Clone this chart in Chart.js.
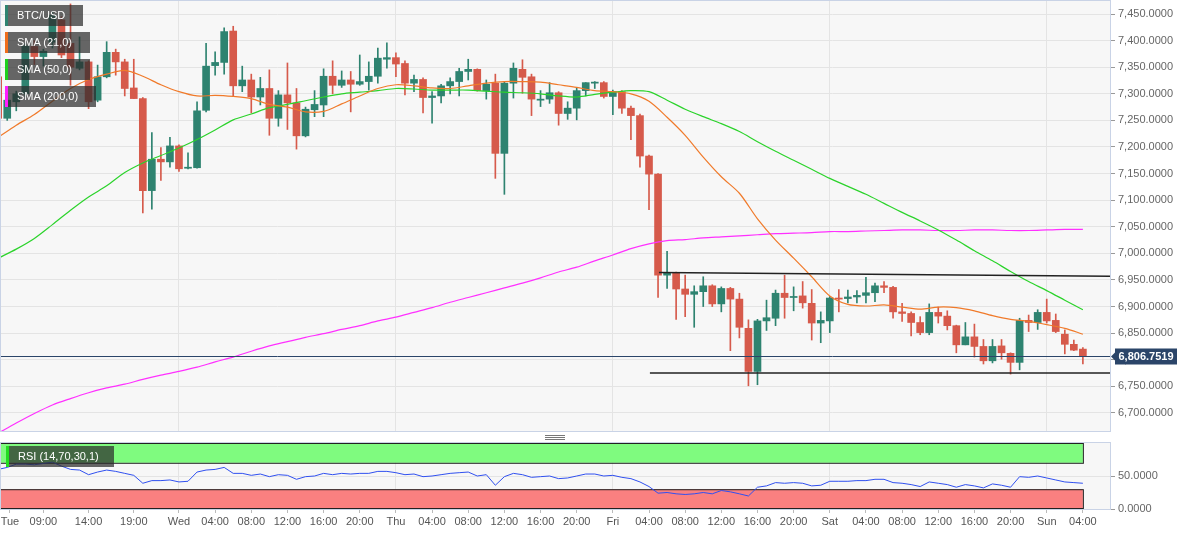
<!DOCTYPE html>
<html>
<head>
<meta charset="utf-8">
<script src="https://cdn.jsdelivr.net/npm/chart.js@4.4.0/dist/chart.umd.min.js"></script>
<style>
  html, body { margin: 0; padding: 0; background: #fff; }
  body { width: 1194px; height: 536px; position: relative; overflow: hidden; font-family: "Liberation Sans", Arial, sans-serif; }
  #main-wrap { position: absolute; left: 0; top: 0; width: 1194px; height: 432px; }
  #rsi-wrap { position: absolute; left: 0; top: 441px; width: 1194px; height: 95px; }
  .tag { position: absolute; height: 21px; line-height: 21px; background: rgba(45,45,45,0.72); color: #fff;
         font-size: 11px; padding-left: 9px; box-sizing: border-box; border-left: 3px solid; white-space: nowrap; }
  .grip { position: absolute; left: 545px; width: 20px; height: 1px; background: #777; }
</style>
</head>
<body>
<div id="main-wrap"><canvas id="price-chart"></canvas></div>
<div id="rsi-wrap"><canvas id="rsi-chart"></canvas></div>

<div class="tag" style="left:5px;top:5px;width:78px;border-color:#2e8370">BTC/USD</div>
<div class="tag" style="left:5px;top:32px;width:85px;border-color:#f06d1a">SMA (21,0)</div>
<div class="tag" style="left:5px;top:59px;width:85px;border-color:#1ed01e">SMA (50,0)</div>
<div class="tag" style="left:5px;top:86px;width:91px;border-color:#ff1eff">SMA (200,0)</div>
<div class="tag" style="left:6px;top:446px;width:108px;border-color:#22dd22">RSI (14,70,30,1)</div>
<div class="grip" style="top:435px"></div>
<div class="grip" style="top:437px"></div>
<div class="grip" style="top:439px"></div>

<script>
// hourly candles, hour 0 = Tue 00:00
const firstHour = 4;

const opens = [
  7332, 7254, 7285, 7300, 7389, 7370, 7397, 7439, 7395, 7348,
  7360, 7288, 7332, 7378, 7360, 7311, 7291, 7118, 7177, 7172,
  7202, 7160, 7161, 7269, 7353, 7359, 7418, 7315, 7326, 7294,
  7310, 7254, 7298, 7283, 7221, 7270, 7279, 7333, 7316, 7326,
  7318, 7323, 7333, 7365, 7368, 7357, 7320, 7327, 7293, 7296,
  7315, 7323, 7342, 7346, 7306, 7320, 7188, 7320, 7346, 7332,
  7288, 7290, 7302, 7263, 7273, 7306, 7320, 7321, 7295, 7304,
  7273, 7259, 7183, 7149, 6959, 6963, 6933, 6923, 6928, 6939,
  6905, 6934, 6914, 6859, 6778, 6873, 6878, 6925, 6917, 6920,
  6906, 6869, 6873, 6916, 6915, 6918, 6921, 6926, 6939, 6936,
  6890, 6887, 6870, 6851, 6889, 6882, 6864, 6828, 6843, 6825,
  6798, 6826, 6812, 6795, 6874, 6870, 6889, 6874, 6848, 6829,
  6820
];
const highs = [
  7340, 7292, 7305, 7394, 7400, 7384, 7455, 7445, 7469, 7407,
  7362, 7354, 7398, 7384, 7365, 7365, 7293, 7227, 7199, 7218,
  7204, 7189, 7285, 7395, 7379, 7424, 7427, 7352, 7337, 7331,
  7345, 7306, 7358, 7310, 7275, 7306, 7347, 7362, 7343, 7342,
  7373, 7360, 7386, 7396, 7377, 7362, 7335, 7330, 7304, 7318,
  7330, 7348, 7365, 7347, 7326, 7337, 7323, 7358, 7364, 7337,
  7306, 7321, 7304, 7285, 7312, 7321, 7323, 7323, 7307, 7306,
  7277, 7262, 7185, 7150, 7004, 6965, 6959, 6939, 6956, 6941,
  6937, 6936, 6925, 6875, 6876, 6912, 6931, 6959, 6937, 6947,
  6932, 6890, 6919, 6932, 6931, 6930, 6955, 6944, 6947, 6938,
  6906, 6890, 6881, 6905, 6899, 6892, 6865, 6870, 6867, 6838,
  6838, 6838, 6813, 6878, 6884, 6894, 6914, 6886, 6856, 6837,
  6823
];
const lows = [
  7250, 7250, 7268, 7295, 7355, 7352, 7386, 7368, 7316, 7345,
  7272, 7285, 7330, 7335, 7296, 7291, 7076, 7083, 7137, 7162,
  7154, 7159, 7160, 7266, 7335, 7337, 7296, 7304, 7264, 7279,
  7222, 7239, 7233, 7196, 7219, 7257, 7257, 7300, 7312, 7266,
  7316, 7307, 7320, 7348, 7332, 7298, 7304, 7264, 7245, 7283,
  7300, 7296, 7326, 7305, 7290, 7141, 7111, 7292, 7301, 7259,
  7276, 7282, 7241, 7252, 7251, 7296, 7310, 7292, 7261, 7263,
  7214, 7162, 7082, 6917, 6934, 6876, 6881, 6861, 6900, 6900,
  6890, 6817, 6841, 6751, 6753, 6855, 6864, 6878, 6892, 6897,
  6837, 6832, 6851, 6890, 6907, 6907, 6907, 6909, 6926, 6878,
  6872, 6845, 6847, 6847, 6869, 6856, 6813, 6828, 6805, 6792,
  6794, 6801, 6773, 6781, 6853, 6857, 6869, 6851, 6811, 6817,
  6792
];
const closes = [
  7254, 7288, 7300, 7390, 7370, 7380, 7448, 7373, 7350, 7360,
  7285, 7332, 7378, 7360, 7310, 7291, 7118, 7177, 7172, 7202,
  7159, 7162, 7268, 7352, 7359, 7417, 7315, 7326, 7294, 7310,
  7254, 7298, 7283, 7221, 7271, 7280, 7333, 7316, 7326, 7318,
  7323, 7333, 7367, 7368, 7356, 7320, 7327, 7293, 7296, 7315,
  7323, 7342, 7346, 7306, 7318, 7188, 7320, 7348, 7331, 7290,
  7290, 7302, 7263, 7273, 7306, 7321, 7322, 7295, 7304, 7273,
  7259, 7183, 7149, 6959, 6963, 6933, 6923, 6928, 6939, 6905,
  6934, 6914, 6861, 6778, 6873, 6879, 6925, 6917, 6919, 6907,
  6869, 6874, 6916, 6914, 6918, 6921, 6926, 6939, 6936, 6890,
  6887, 6870, 6851, 6889, 6882, 6864, 6828, 6843, 6825, 6798,
  6825, 6813, 6795, 6874, 6870, 6889, 6873, 6853, 6829, 6818,
  6806.7519
];

// moving averages, read every 2 hours
const smaHours = [
  4, 6, 8, 10, 12, 14, 16, 18, 20, 22, 24, 26, 28, 30, 32, 34, 36, 38, 40, 42,
  44, 46, 48, 50, 52, 54, 56, 58, 60, 62, 64, 66, 68, 70, 72, 74, 76, 78, 80, 82,
  84, 86, 88, 90, 92, 94, 96, 98, 100, 102, 104, 106, 108, 110, 112, 114, 116, 118, 120, 122,
  124
];
const sma21 = [
  7218, 7241, 7261, 7286, 7310, 7327, 7337, 7344, 7333, 7317,
  7304, 7296, 7297, 7295, 7291, 7280, 7275, 7266, 7267, 7281,
  7296, 7310, 7317, 7315, 7311, 7310, 7315, 7320, 7323, 7323,
  7322, 7317, 7312, 7306, 7304, 7300, 7286, 7256, 7222, 7181,
  7144, 7113, 7065, 7025, 6991, 6956, 6920, 6904, 6901, 6903,
  6899, 6895, 6899, 6898, 6892, 6883, 6876, 6872, 6866, 6859,
  6848
];
const sma50 = [
  6991, 7008, 7028, 7054, 7081, 7106, 7127, 7152, 7170, 7184,
  7198, 7214, 7232, 7251, 7262, 7274, 7280, 7287, 7294, 7300,
  7303, 7306, 7310, 7309, 7307, 7307, 7307, 7305, 7303, 7302,
  7300, 7296, 7294, 7299, 7303, 7306, 7304, 7288, 7271, 7257,
  7244, 7229, 7210, 7192, 7175, 7158, 7141, 7126, 7111, 7094,
  7077, 7061, 7044, 7025, 7005, 6986, 6966, 6947, 6930, 6912,
  6894
];
const sma200 = [
  6662, 6681, 6699, 6715, 6727, 6738, 6747, 6754, 6763, 6771,
  6778, 6786, 6796, 6805, 6816, 6826, 6834, 6842, 6849, 6857,
  6864, 6873, 6880, 6889, 6898, 6908, 6917, 6926, 6935, 6944,
  6954, 6965, 6974, 6986, 6997, 7009, 7018, 7024, 7026, 7029,
  7031, 7033, 7035, 7037, 7038, 7039, 7041, 7041, 7042, 7043,
  7044, 7044, 7043, 7043, 7044, 7044, 7043, 7043, 7044, 7045,
  7045
];

// hand-drawn channel lines [start hour, end hour] / [start price, end price]
const resistanceHours = [77.1, 127];
const resistancePrices = [6964, 6957];
const supportHours = [76.1, 127];
const supportPrices = [6775, 6775];

const rsiValues = [
  60, 63, 68, 68, 67, 69, 71, 65, 60, 59,
  52, 56, 59, 57, 54, 51, 39, 43, 43, 44,
  41, 42, 56, 59, 60, 63, 54, 54, 51, 53,
  49, 52, 51, 45, 49, 50, 54, 52, 54, 53,
  54, 54, 57, 57, 55, 52, 53, 49, 50, 52,
  54, 55, 56, 50, 52, 36, 49, 54, 52, 48,
  49, 50, 46, 47, 50, 53, 53, 50, 51, 48,
  46, 41, 34, 24, 25, 23, 22, 23, 25, 23,
  28, 26, 23, 19.7, 33, 35, 40, 39, 40, 39,
  35, 36, 42, 42, 42, 43, 43, 45, 45, 40,
  39, 37, 34, 41, 39, 37, 33, 37, 35, 32,
  38, 36, 33, 49, 48, 50, 47, 44, 41, 40,
  39
];

const timeTicks = [5.3, 9, 14, 19, 24, 28, 32, 36, 40, 44, 48, 52, 56, 60, 64, 68, 72, 76, 80, 84, 88, 92, 96, 100, 104, 108, 112, 116, 120, 124];
const timeLabels = ['Tue', '09:00', '14:00', '19:00', 'Wed', '04:00', '08:00', '12:00', '16:00', '20:00',
                    'Thu', '04:00', '08:00', '12:00', '16:00', '20:00', 'Fri', '04:00', '08:00', '12:00',
                    '16:00', '20:00', 'Sat', '04:00', '08:00', '12:00', '16:00', '20:00', 'Sun', '04:00'];
const dayHours = [24, 48, 72, 96, 120];
const priceTicks = [6700, 6750, 6800, 6850, 6900, 6950, 7000, 7050, 7100, 7150, 7200, 7250, 7300, 7350, 7400, 7450];
const rsiTicks = [0, 50];
const rsiUpper = 70;
const rsiLower = 30;

const xMin = 4.2;
const xMax = 127;

const bullColor = '#2e8370';
const bearColor = '#d65a4b';
const gridColor = '#e4e4e4';
const frameColor = '#c9d3e6';
const priceColor = '#2b4569';

Chart.defaults.font.family = '"Liberation Sans", Arial, sans-serif';
Chart.defaults.font.size = 11;
Chart.defaults.color = '#666';

const hours = opens.map((_, i) => firstHour + i);
const lastHour = hours[hours.length - 1];
const lastPrice = closes[closes.length - 1];
const candleColors = opens.map((o, i) => closes[i] >= o ? bullColor : bearColor);

const fmt4 = (v) => v.toLocaleString('en-US', { minimumFractionDigits: 4, maximumFractionDigits: 4 });

// keep the plot area edge to edge: no extra room for overflowing labels
const fitRight = (scale) => {
  scale.width = 84;
  scale.paddingTop = 0;
  scale.paddingBottom = 0;
};
const fitBottom = (h) => (scale) => {
  scale.height = h;
  scale.paddingLeft = 0;
  scale.paddingRight = 0;
};

const panelPlugin = {
  id: 'panel',
  beforeDraw(chart) {
    const { ctx, chartArea: a } = chart;
    ctx.save();
    ctx.fillStyle = '#f7f7f7';
    ctx.fillRect(a.left, a.top, a.right - a.left, a.bottom - a.top);
    ctx.restore();
  },
  afterDraw(chart) {
    const { ctx, chartArea: a } = chart;
    ctx.save();
    ctx.strokeStyle = frameColor;
    ctx.lineWidth = 1;
    ctx.strokeRect(a.left + 0.5, a.top - 0.5, a.right - a.left, a.bottom - a.top + 1);
    ctx.restore();
  }
};

const lastPricePlugin = {
  id: 'lastPrice',
  afterDatasetsDraw(chart) {
    const { ctx, chartArea: a, scales } = chart;
    const y = Math.round(scales.y.getPixelForValue(lastPrice)) + 0.5;
    ctx.save();
    ctx.strokeStyle = priceColor;
    ctx.lineWidth = 1;
    ctx.beginPath();
    ctx.moveTo(a.left, y);
    ctx.lineTo(a.right, y);
    ctx.stroke();
    ctx.restore();
  },
  afterDraw(chart) {
    const { ctx, chartArea: a, scales } = chart;
    const y = Math.round(scales.y.getPixelForValue(lastPrice)) + 0.5;
    const x0 = a.right + 1;
    ctx.save();
    ctx.fillStyle = priceColor;
    ctx.beginPath();
    ctx.moveTo(x0, y);
    ctx.lineTo(x0 + 4, y - 4);
    ctx.lineTo(x0 + 4, y - 8);
    ctx.lineTo(x0 + 66, y - 8);
    ctx.lineTo(x0 + 66, y + 8);
    ctx.lineTo(x0 + 4, y + 8);
    ctx.lineTo(x0 + 4, y + 4);
    ctx.closePath();
    ctx.fill();
    ctx.fillStyle = '#fff';
    ctx.font = 'bold 11px "Liberation Sans", Arial, sans-serif';
    ctx.textAlign = 'center';
    ctx.textBaseline = 'middle';
    ctx.fillText(fmt4(lastPrice), x0 + 35, y + 0.5);
    ctx.restore();
  }
};

const rsiZonePlugin = {
  id: 'rsiZones',
  beforeDatasetsDraw(chart) {
    const { ctx, chartArea: a, scales } = chart;
    const xr = scales.x.getPixelForValue(lastHour);
    const yTop = scales.y.getPixelForValue(100);
    const yUp = scales.y.getPixelForValue(rsiUpper);
    const yLow = scales.y.getPixelForValue(rsiLower);
    const yBot = scales.y.getPixelForValue(0);
    ctx.save();
    ctx.lineWidth = 1;
    ctx.strokeStyle = '#222';
    ctx.fillStyle = '#7ffb7f';
    ctx.fillRect(a.left, yTop, xr - a.left, yUp - yTop);
    ctx.strokeRect(a.left + 0.5, yTop + 0.5, xr - a.left, yUp - yTop);
    ctx.fillStyle = '#fa8080';
    ctx.fillRect(a.left, yLow, xr - a.left, yBot - yLow);
    ctx.strokeRect(a.left + 0.5, yLow + 0.5, xr - a.left, yBot - yLow - 1);
    ctx.restore();
  }
};

// price panel
new Chart(document.getElementById('price-chart'), {
  type: 'bar',
  data: {
    datasets: [
      {
        label: 'Resistance',
        type: 'line',
        data: resistanceHours.map((h, i) => ({ x: h, y: resistancePrices[i] })),
        borderColor: '#222',
        borderWidth: 1.5,
        pointRadius: 0,
        order: 0
      },
      {
        label: 'Support',
        type: 'line',
        data: supportHours.map((h, i) => ({ x: h, y: supportPrices[i] })),
        borderColor: '#222',
        borderWidth: 1.5,
        pointRadius: 0,
        order: 0
      },
      {
        label: 'SMA (21,0)',
        type: 'line',
        data: smaHours.map((h, i) => ({ x: h, y: sma21[i] })),
        borderColor: '#f07a2a',
        borderWidth: 1.2,
        pointRadius: 0,
        tension: 0.3,
        order: 1
      },
      {
        label: 'SMA (50,0)',
        type: 'line',
        data: smaHours.map((h, i) => ({ x: h, y: sma50[i] })),
        borderColor: '#2bd32b',
        borderWidth: 1.2,
        pointRadius: 0,
        tension: 0.3,
        order: 1
      },
      {
        label: 'SMA (200,0)',
        type: 'line',
        data: smaHours.map((h, i) => ({ x: h, y: sma200[i] })),
        borderColor: '#ff30ff',
        borderWidth: 1.2,
        pointRadius: 0,
        tension: 0.3,
        order: 1
      },
      {
        label: 'body',
        data: hours.map((h, i) => ({ x: h, y: [opens[i], closes[i]] })),
        backgroundColor: candleColors,
        barThickness: 7,
        minBarLength: 1,
        grouped: false,
        order: 2
      },
      {
        label: 'wick',
        data: hours.map((h, i) => ({ x: h, y: [lows[i], highs[i]] })),
        backgroundColor: candleColors,
        barThickness: 1,
        grouped: false,
        order: 3
      }
    ]
  },
  options: {
    responsive: true,
    maintainAspectRatio: false,
    animation: false,
    layout: { padding: { top: 1, bottom: 1, left: 0, right: 0 } },
    plugins: { legend: { display: false }, tooltip: { enabled: false } },
    scales: {
      x: {
        type: 'linear',
        offset: false,
        min: xMin,
        max: xMax,
        afterBuildTicks: (scale) => { scale.ticks = dayHours.map(v => ({ value: v })); },
        afterFit: fitBottom(0),
        ticks: { display: false },
        grid: { color: gridColor, drawTicks: false, offset: false },
        border: { display: false }
      },
      y: {
        position: 'right',
        min: 6666,
        max: 7474.5,
        afterBuildTicks: (scale) => { scale.ticks = priceTicks.map(v => ({ value: v })); },
        afterFit: fitRight,
        ticks: { padding: 3, callback: (v) => fmt4(v) },
        grid: { color: gridColor, tickLength: 5, tickColor: '#999' },
        border: { display: false }
      }
    }
  },
  plugins: [panelPlugin, lastPricePlugin]
});

// RSI panel
new Chart(document.getElementById('rsi-chart'), {
  type: 'line',
  data: {
    datasets: [{
      label: 'RSI (14,70,30,1)',
      data: hours.map((h, i) => ({ x: h, y: rsiValues[i] })),
      borderColor: '#3050f0',
      borderWidth: 1,
      pointRadius: 0
    }]
  },
  options: {
    responsive: true,
    maintainAspectRatio: false,
    animation: false,
    layout: { padding: { top: 2, bottom: 0, left: 0, right: 0 } },
    plugins: { legend: { display: false }, tooltip: { enabled: false } },
    scales: {
      x: {
        type: 'linear',
        min: xMin,
        max: xMax,
        afterBuildTicks: (scale) => { scale.ticks = timeTicks.map(v => ({ value: v })); },
        afterFit: fitBottom(27),
        ticks: {
          autoSkip: false,
          maxRotation: 0,
          padding: 2,
          color: '#555',
          callback: (v, i) => timeLabels[i]
        },
        grid: {
          color: (c) => (c.tick && dayHours.includes(c.tick.value)) ? gridColor : 'rgba(0,0,0,0)',
          tickLength: 4,
          tickColor: '#bbb'
        },
        border: { display: false }
      },
      y: {
        position: 'right',
        min: 0,
        max: 100,
        afterBuildTicks: (scale) => { scale.ticks = rsiTicks.map(v => ({ value: v })); },
        afterFit: fitRight,
        ticks: { padding: 3, callback: (v) => fmt4(v) },
        grid: { color: gridColor, tickLength: 5, tickColor: '#999' },
        border: { display: false }
      }
    }
  },
  plugins: [panelPlugin, rsiZonePlugin]
});
</script>
</body>
</html>
